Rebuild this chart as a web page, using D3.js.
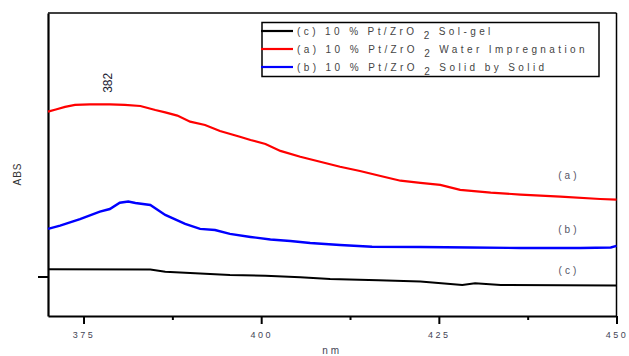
<!DOCTYPE html>
<html>
<head>
<meta charset="utf-8">
<script src="https://cdn.jsdelivr.net/npm/d3@7"></script>
<style>
  body { margin: 0; background: #fff; }
  svg { display: block; font-family: "Liberation Sans", Arial, sans-serif; }
</style>
</head>
<body>
<div id="chart"></div>
<script>
// wavelength (nm) and absorbance
const redNm = [370, 371.1, 372.4, 373.8, 375.9, 378.7, 380.8, 383.0, 385.1, 386.5, 388.2, 390.0, 392.1, 394.2, 397.0, 398.5, 400.6, 402.7, 405.5, 408.3, 411.1, 413.9, 416.8, 419.6, 422.4, 425.2, 428.0, 432.3, 436.5, 442.1, 447.7, 450];
const redAbs = [1.251, 1.268, 1.287, 1.302, 1.306, 1.306, 1.302, 1.294, 1.264, 1.246, 1.221, 1.175, 1.150, 1.104, 1.061, 1.036, 1.006, 0.953, 0.909, 0.871, 0.833, 0.801, 0.763, 0.727, 0.710, 0.695, 0.657, 0.636, 0.622, 0.606, 0.588, 0.583];

const blueNm = [370, 371.7, 374.5, 377.3, 378.7, 380.1, 381.3, 382.3, 384.4, 386.5, 389.3, 391.4, 393.5, 395.6, 398.5, 401.3, 404.1, 406.9, 411.1, 415.6, 422.4, 429.4, 436.5, 444.9, 449.2, 450];
const blueAbs = [0.361, 0.386, 0.436, 0.492, 0.512, 0.560, 0.569, 0.558, 0.543, 0.467, 0.399, 0.361, 0.353, 0.323, 0.300, 0.281, 0.269, 0.254, 0.239, 0.226, 0.224, 0.220, 0.216, 0.216, 0.220, 0.232];

const blackNm = [370, 384.4, 386.5, 390.7, 395.6, 400.6, 405.5, 409.7, 416.5, 422.4, 428.3, 430.1, 433.7, 450];
const blackAbs = [0.055, 0.053, 0.036, 0.024, 0.011, 0.006, -0.006, -0.019, -0.029, -0.039, -0.065, -0.052, -0.065, -0.068];

const majorTicks = [375, 400, 425, 450];
const minorTicks = [387.5, 412.5, 437.5];

const legendItems = [
  { color: "#000000", pre: "(c) 10 % Pt/ZrO ", post: " Sol-gel" },
  { color: "#ff0000", pre: "(a) 10 % Pt/ZrO ", post: " Water Impregnation" },
  { color: "#0000ff", pre: "(b) 10 % Pt/ZrO ", post: " Solid by Solid" }
];

const W = 629, H = 356;
const svg = d3.select("#chart").append("svg")
  .attr("width", W).attr("height", H);

const x = d3.scaleLinear().domain([370, 450]).range([48, 616.5]);
const y = d3.scaleLinear().domain([-0.3, 2.0]).range([316, 13]);

// frame top / right
svg.append("line")
  .attr("x1", x.range()[0]).attr("x2", x.range()[1])
  .attr("y1", y.range()[1]).attr("y2", y.range()[1])
  .attr("stroke", "#000").attr("stroke-width", 1.5);
svg.append("line")
  .attr("x1", x.range()[1]).attr("x2", x.range()[1])
  .attr("y1", y.range()[1]).attr("y2", y.range()[0])
  .attr("stroke", "#000").attr("stroke-width", 1.5);

// bottom axis
const xAxis = svg.append("g")
  .attr("transform", `translate(0,${y.range()[0]})`)
  .call(d3.axisBottom(x).tickValues(majorTicks).tickSize(8).tickSizeOuter(0).tickPadding(8).tickFormat(d3.format("d")));
svg.append("g")
  .attr("transform", `translate(0,${y.range()[0]})`)
  .call(d3.axisBottom(x).tickValues(minorTicks).tickSize(4).tickFormat(""))
  .call(g => g.select(".domain").remove());

// left axis
svg.append("g")
  .attr("transform", `translate(${x.range()[0]},0)`)
  .call(d3.axisLeft(y).tickValues([0]).tickSize(10).tickSizeOuter(0).tickFormat(""));

svg.selectAll(".domain").attr("stroke-width", 2.2).attr("stroke", "#000");
svg.selectAll(".tick line").attr("stroke-width", 2).attr("stroke", "#000");
xAxis.selectAll(".tick text")
  .attr("font-size", "9px")
  .attr("letter-spacing", "2.5px")
  .attr("fill", "#445");

// curves
const line = d3.line().x(d => x(d[0])).y(d => y(d[1]));
const series = [
  { nm: blackNm, abs: blackAbs, color: "#000000", w: 2 },
  { nm: blueNm, abs: blueAbs, color: "#0000ff", w: 2.4 },
  { nm: redNm, abs: redAbs, color: "#ff0000", w: 2.2 }
];
series.forEach(s => {
  svg.append("path")
    .datum(d3.zip(s.nm, s.abs))
    .attr("d", line)
    .attr("fill", "none")
    .attr("stroke", s.color)
    .attr("stroke-width", s.w);
});

// axis titles
svg.append("text")
  .attr("transform", `translate(21,174) rotate(-90)`)
  .attr("text-anchor", "middle")
  .attr("font-size", "10px")
  .attr("letter-spacing", "1px")
  .attr("fill", "#333")
  .text("ABS");

svg.append("text")
  .attr("x", x(410)).attr("y", 354)
  .attr("text-anchor", "middle")
  .attr("font-size", "10px")
  .attr("letter-spacing", "3px")
  .attr("fill", "#445")
  .text("nm");

// peak label
svg.append("text")
  .attr("transform", `translate(${x(378.5) + 4},${y(1.47)}) rotate(-90)`)
  .attr("text-anchor", "middle")
  .attr("font-size", "12px")
  .attr("fill", "#223")
  .text("382");

// curve labels
[["(a)", 0.74], ["(b)", 0.33], ["(c)", 0.02]].forEach(([t, v]) => {
  svg.append("text")
    .attr("x", x(443.3)).attr("y", y(v))
    .attr("text-anchor", "middle")
    .attr("font-size", "10px")
    .attr("letter-spacing", "3px")
    .attr("fill", "#556")
    .text(t);
});

// legend
const lg = svg.append("g");
lg.append("rect")
  .attr("x", 262).attr("y", 22.5)
  .attr("width", 337).attr("height", 54)
  .attr("fill", "#fff").attr("stroke", "#000").attr("stroke-width", 1.5);
legendItems.forEach((d, i) => {
  const yy = 31 + i * 18;
  lg.append("line")
    .attr("x1", 261).attr("x2", 293)
    .attr("y1", yy).attr("y2", yy)
    .attr("stroke", d.color).attr("stroke-width", 2.2);
  const t = lg.append("text")
    .attr("x", 297).attr("y", yy + 3.5)
    .attr("font-size", "10px")
    .attr("letter-spacing", "3.4px")
    .attr("fill", "#444");
  t.append("tspan").text(d.pre);
  t.append("tspan").attr("dy", 4).text("2");
  t.append("tspan").attr("dy", -4).text(d.post);
});
</script>
</body>
</html>
